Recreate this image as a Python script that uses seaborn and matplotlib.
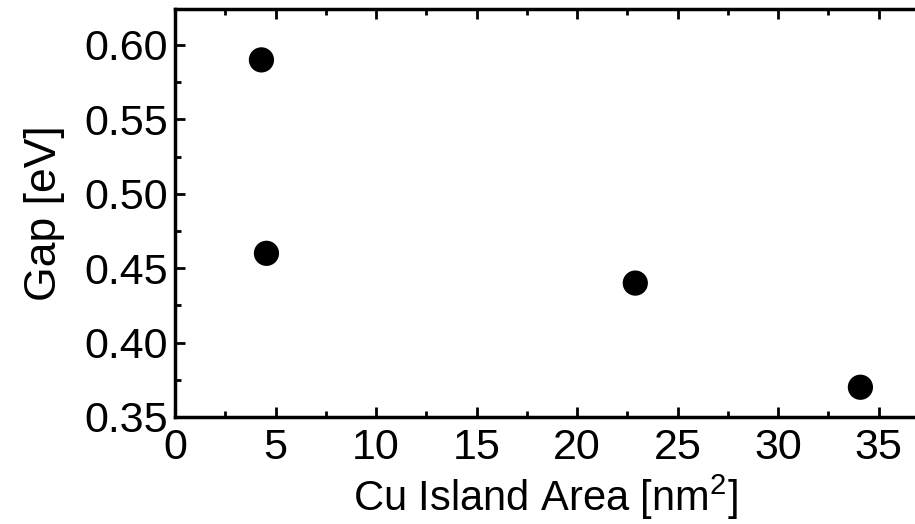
import matplotlib
matplotlib.use("Agg")
import matplotlib.pyplot as plt
import seaborn as sns
import pandas as pd
from matplotlib.ticker import MultipleLocator

area = [4.3, 4.55, 22.9, 34.1]
gap = [0.59, 0.46, 0.44, 0.37]
xticks = [0, 5, 10, 15, 20, 25, 30, 35]
yticks = [0.35, 0.40, 0.45, 0.50, 0.55, 0.60]

df = pd.DataFrame({"area": area, "gap": gap})

sns.set_theme(style="ticks")
plt.rcParams['font.family'] = ['Liberation Sans', 'DejaVu Sans']
plt.rcParams['mathtext.fontset'] = 'custom'
plt.rcParams['mathtext.rm'] = 'Liberation Sans'
plt.rcParams['mathtext.it'] = 'Liberation Sans'
plt.rcParams['text.color'] = 'black'
plt.rcParams['axes.labelcolor'] = 'black'
plt.rcParams['xtick.color'] = 'black'
plt.rcParams['ytick.color'] = 'black'

fig = plt.figure(figsize=(9.15, 5.24), dpi=100)
ax = fig.add_axes([175/915, 1 - 417/524, (915 - 175)/915, (417 - 9)/524])

sns.scatterplot(data=df, x="area", y="gap", ax=ax, s=330, color="black",
                edgecolor="none", linewidth=0, legend=False)

ax.set_xlim(0, (915 - 175) / 20.1)
ax.set_ylim(0.35, 0.35 + (417 - 9) / 1488)
ax.set_xticks(xticks)
ax.set_xticklabels([str(t) for t in xticks])
ax.set_yticks(yticks)
ax.set_yticklabels([f"{t:.2f}" for t in yticks])
ax.xaxis.set_minor_locator(MultipleLocator(2.5))
ax.yaxis.set_minor_locator(MultipleLocator(0.025))

for s in ["left", "bottom", "top"]:
    ax.spines[s].set_linewidth(2.5)
    ax.spines[s].set_color("black")
ax.spines["right"].set_visible(False)

ax.tick_params(which="both", direction="in", top=True, right=False,
               color="black", width=2, labelcolor="black")
ax.tick_params(which="major", length=7, labelsize=31)
ax.tick_params(axis="x", which="major", pad=8)
ax.tick_params(axis="y", which="major", pad=5)
ax.tick_params(which="minor", length=4)

ax.set_xlabel(r"Cu Island Area [nm$^2$]", fontsize=30, labelpad=3, color="black")
ax.set_ylabel("Gap [eV]", fontsize=32, labelpad=14, color="black")

fig.savefig("out.png", dpi=100)
